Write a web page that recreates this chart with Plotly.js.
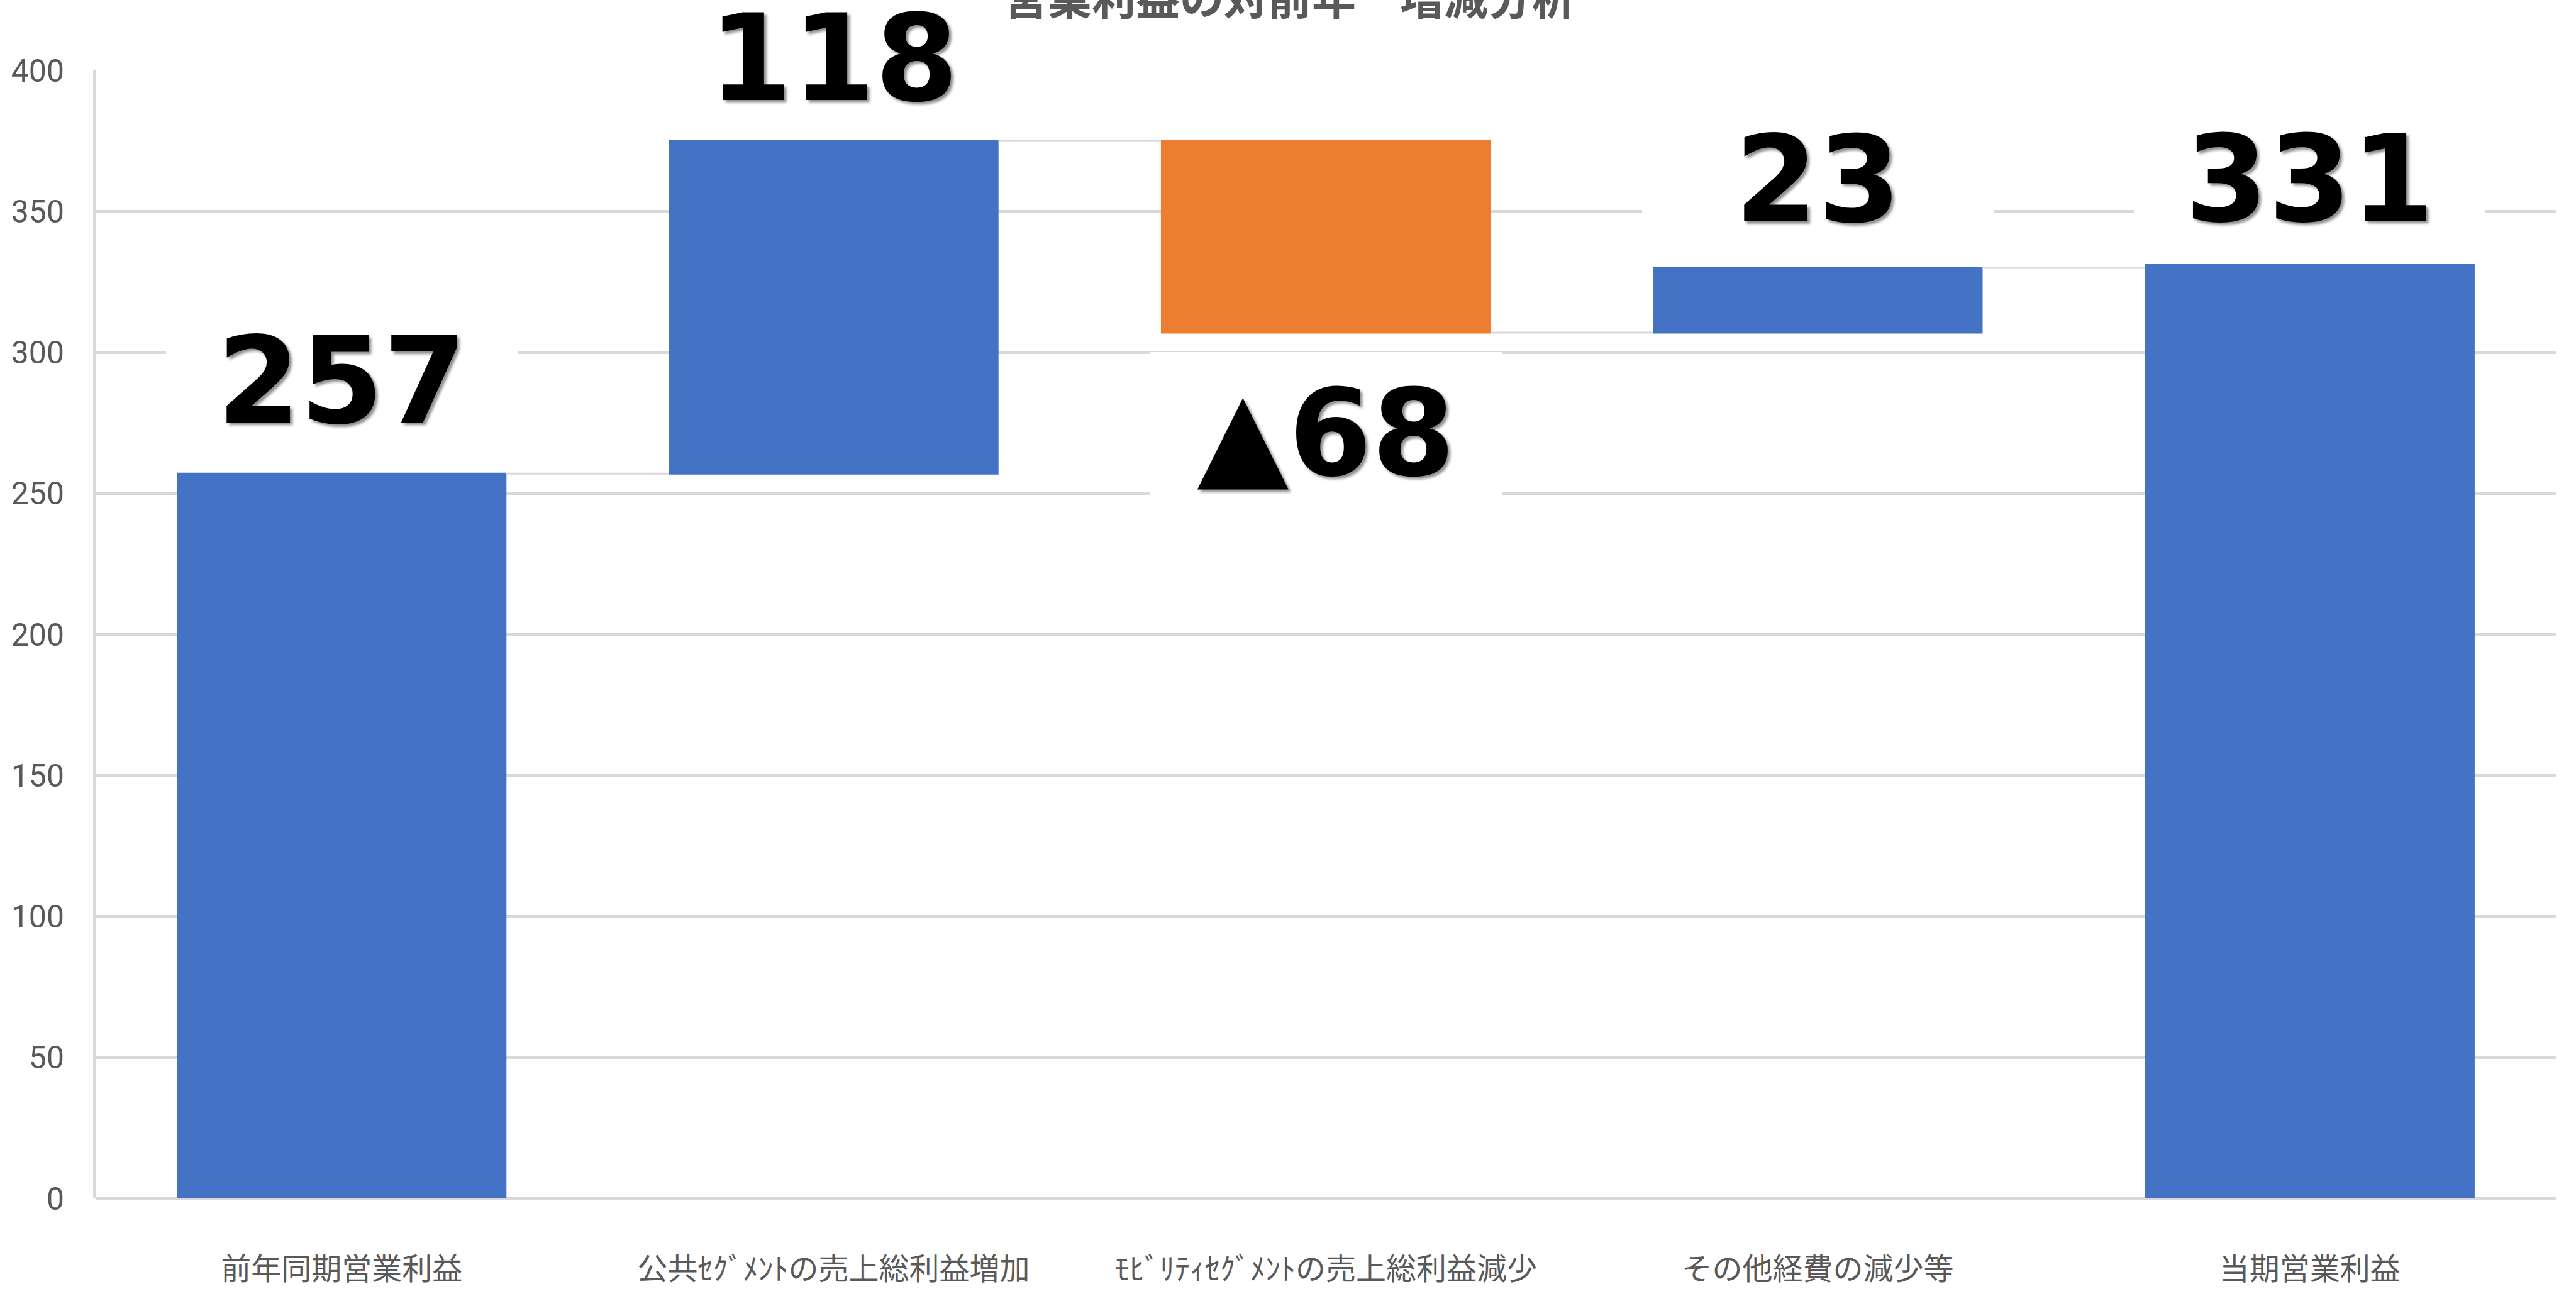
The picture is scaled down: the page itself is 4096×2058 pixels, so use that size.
<!DOCTYPE html>
<html>
<head>
<meta charset="utf-8">
<script src="https://cdn.plot.ly/plotly-3.0.1.min.js"></script>
<style>
  html, body { margin: 0; padding: 0; background: #ffffff; }
  #chart { width: 4096px; height: 2058px; }
</style>
</head>
<body>
<div id="chart"></div>
<script>
// ---- data ----
const categories = [
  "前年同期営業利益",
  "公共ｾｸﾞﾒﾝﾄの売上総利益増加",
  "ﾓﾋﾞﾘﾃｨｾｸﾞﾒﾝﾄの売上総利益減少",
  "その他経費の減少等",
  "当期営業利益"
];
const values = [257, 118, -68, 23, 331];
const measures = ["absolute", "relative", "relative", "relative", "absolute"];
const chartTitle = "営業利益の対前年　増減分析";
const yTickValues = [0, 50, 100, 150, 200, 250, 300, 350, 400];

// ---- styles ----
const BLUE = "#4472C4";
const ORANGE = "#ED7D31";
const GRID = "#D9D9D9";
const TICK = "#595959";
const labelShift = [147, 131, 160, 140, 136]; // px distance of label centre from bar end

// label texts derived from values
const labelText = values.map(v => v < 0 ? "▲" + Math.abs(v) : String(v));

// compute label anchor (bar end) through data
const annotations = [];
let cum = 0;
values.forEach((v, i) => {
  let base, end;
  if (measures[i] === "absolute") { base = 0; end = v; }
  else { base = cum; end = cum + v; }
  cum = end;
  const up = v >= 0;
  annotations.push({
    x: categories[i], xref: "x",
    y: up ? Math.max(base, end) : Math.min(base, end), yref: "y",
    yshift: up ? labelShift[i] : -labelShift[i],
    text: labelText[i],
    showarrow: false,
    xanchor: "center", yanchor: "middle",
    width: 559, height: 258,
    bgcolor: "#ffffff", borderpad: 0, borderwidth: 0,
    font: { family: "DejaVu Sans, Verdana, sans-serif", size: 190, color: "#000000",
            weight: "bold", shadow: "4px 4px 4px rgba(0,0,0,0.45)" }
  });
});

// chart title (the reference shows it cut off by the top edge)
annotations.push({
  text: chartTitle,
  xref: "paper", x: 0.4855, xanchor: "center",
  yref: "paper", y: 1, yanchor: "middle", yshift: 119,
  showarrow: false,
  font: { family: "Noto Sans CJK JP, sans-serif", size: 70, color: TICK, weight: "bold" }
});

const trace = {
  type: "waterfall",
  x: categories,
  y: values,
  measure: measures,
  textposition: "none",
  increasing: { marker: { color: BLUE } },
  decreasing: { marker: { color: ORANGE } },
  totals: { marker: { color: BLUE } },
  connector: { mode: "between", line: { color: GRID, width: 3 } },
  hoverinfo: "skip"
};

const layout = {
  width: 4096, height: 2058,
  margin: { l: 152, r: 32, t: 112, b: 152 },
  paper_bgcolor: "#ffffff",
  plot_bgcolor: "#ffffff",
  showlegend: false,
  waterfallgap: 0.33,
  xaxis: {
    type: "category",
    showgrid: false,
    showline: false,
    zeroline: false,
    ticks: "",
    ticklabelstandoff: 80,
    tickfont: { family: "Noto Sans CJK JP, sans-serif", size: 48, color: TICK }
  },
  yaxis: {
    range: [0, 400],
    tickvals: yTickValues,
    showgrid: true,
    gridcolor: GRID,
    gridwidth: 4,
    showline: true,
    linecolor: GRID,
    linewidth: 4,
    zeroline: true,
    zerolinecolor: GRID,
    zerolinewidth: 4,
    ticks: "",
    ticklabelstandoff: 36,
    tickfont: { family: "Roboto, sans-serif", size: 50, color: TICK }
  },
  annotations: annotations
};

Plotly.newPlot("chart", [trace], layout, { staticPlot: true, displayModeBar: false });
</script>
</body>
</html>
